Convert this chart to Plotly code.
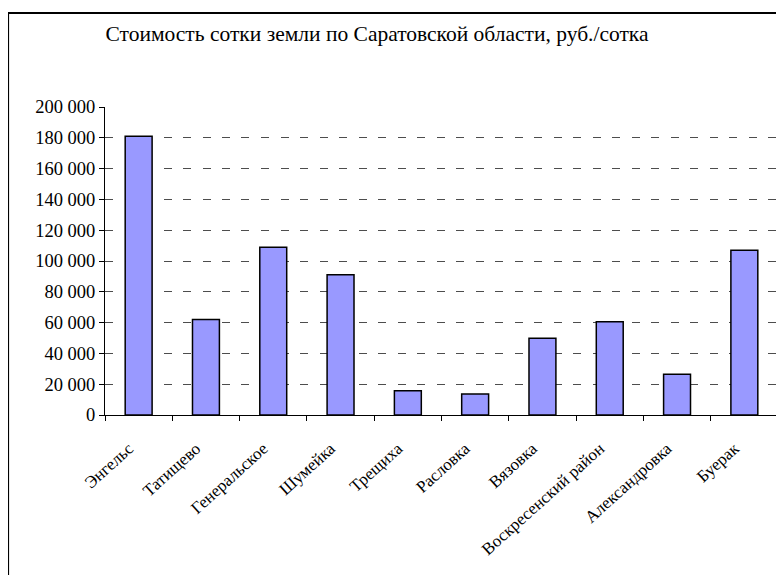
import plotly.graph_objects as go

places = ["Энгельс", "Татищево", "Генеральское", "Шумейка", "Трещиха",
          "Расловка", "Вязовка", "Воскресенский район", "Александровка", "Буерак"]
prices = [181000, 62000, 109000, 91000, 15800, 13600, 49800, 60500, 26400, 107000]

y_ticks = [0, 20000, 40000, 60000, 80000, 100000, 120000, 140000, 160000, 180000, 200000]
y_labels = ["0", "20 000", "40 000", "60 000", "80 000", "100 000", "120 000",
            "140 000", "160 000", "180 000", "200 000"]

serif = "'Times New Roman', 'Liberation Serif', 'DejaVu Serif', serif"

fig = go.Figure(go.Bar(
    x=places, y=prices,
    marker=dict(color="#9999ff", line=dict(color="black", width=1.5)),
    width=0.4,
))

fig.update_layout(
    width=784, height=575,
    margin=dict(l=97, r=14, t=99, b=168),
    paper_bgcolor="white", plot_bgcolor="white",
    font=dict(family=serif, size=15, color="black"),
    showlegend=False,
    title=dict(text="Стоимость сотки земли по Саратовской области, руб./сотка",
               x=369 / 784, xanchor="center", xref="container",
               y=1 - 25 / 575, yanchor="middle", yref="container",
               font=dict(family=serif, size=21.5, color="black")),
    shapes=[dict(type="rect", xref="paper", yref="paper",
                 x0=-0.144, x1=1.2, y0=-1.0, y1=1.305,
                 line=dict(color="black", width=2))],
)

fig.update_xaxes(
    showline=True, linecolor="black", linewidth=1,
    ticks="outside", tickson="boundaries", ticklen=5, tickcolor="black",
    tickangle=-42, tickfont=dict(family=serif, size=17),
    ticklabelstandoff=16, ticklabelshift=-10,
    showgrid=False,
)
fig.update_yaxes(
    range=[0, 200000], tickvals=y_ticks, ticktext=y_labels,
    showline=True, linecolor="black", linewidth=1,
    ticks="outside", ticklen=5, tickcolor="black",
    tickfont=dict(family=serif, size=18.5),
    showgrid=True, gridcolor="#4d4d4d", griddash="8px,11.5px", gridwidth=1,
    zeroline=False,
)

fig.write_html("out.html")
